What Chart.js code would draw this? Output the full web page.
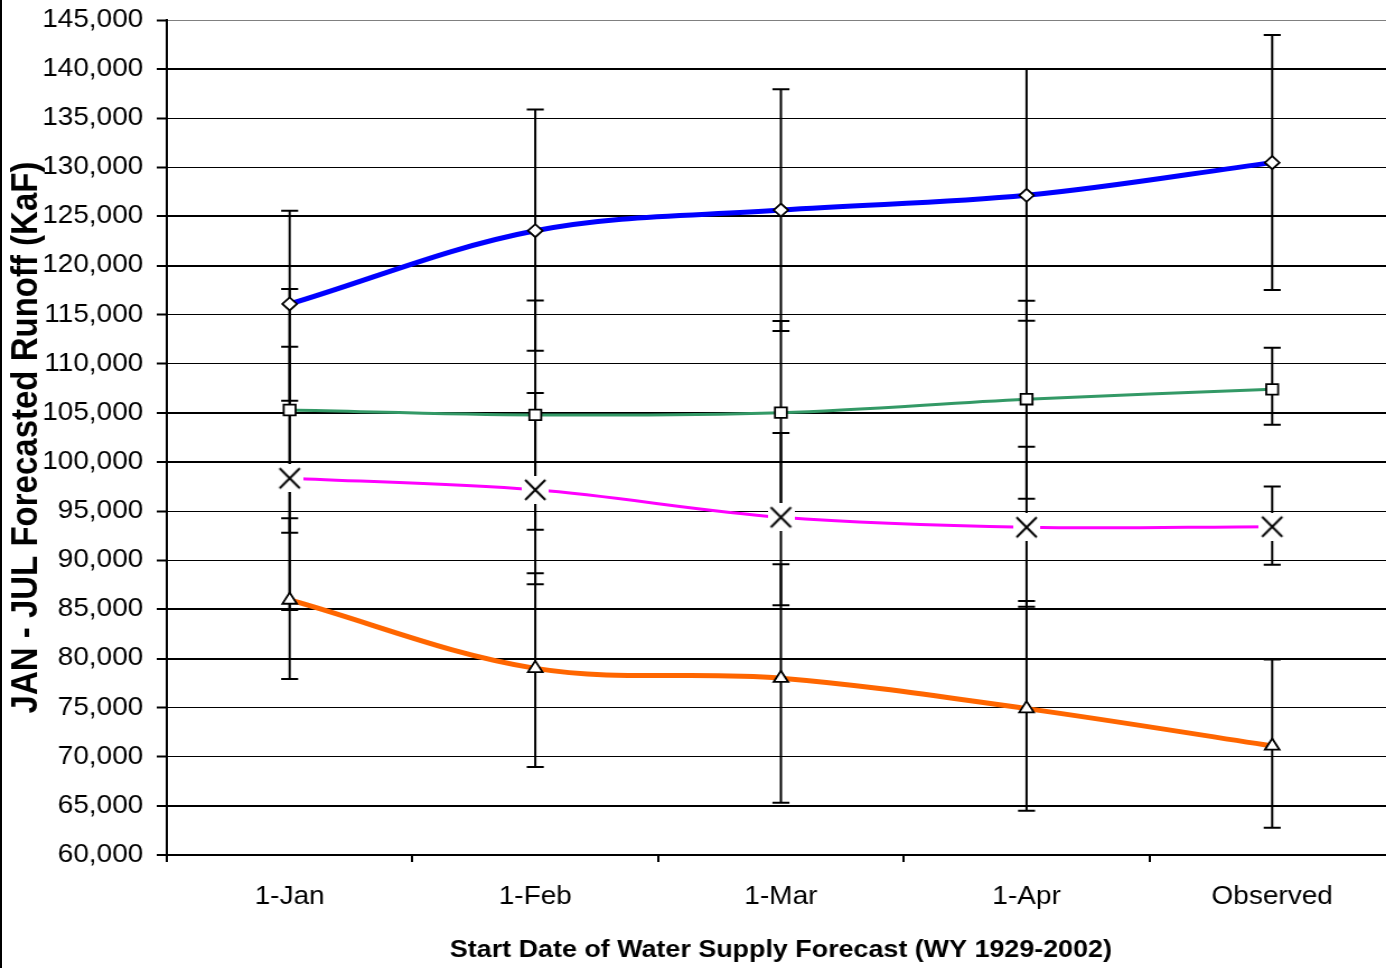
<!DOCTYPE html>
<html>
<head>
<meta charset="utf-8">
<script src="https://cdn.jsdelivr.net/npm/chart.js@4.4.0/dist/chart.umd.min.js"></script>
<style>
html,body{margin:0;padding:0;background:#fff;overflow:hidden;width:1386px;height:968px;}
#wrap{position:relative;width:1386px;height:968px;overflow:hidden;background:#fff;}
#c{position:absolute;left:0;top:0;}
#edge{position:absolute;left:0;top:0;width:2px;height:968px;background:#000;}
</style>
</head>
<body>
<div id="wrap">
<canvas id="c" width="1246" height="968" style="width:1395px;height:968px;"></canvas>
<div id="edge"></div>
</div>
<script>
// ---- data ----
const categories = ['1-Jan', '1-Feb', '1-Mar', '1-Apr', 'Observed'];

const blueValues = [116100, 123550, 125650, 127150, 130480];
const blueHigh   = [125590, 135890, 137950, 140000, 143470];
const blueLow    = [106250, 111330, 113340, 114390, 117515];

const greenValues = [105300, 104800, 105030, 106400, 107400];
const greenHigh   = [117620, 116440, 114360, 116430, 111645];
const greenLow    = [92810, 93120, 95700, 96270, 103805];

const pinkValues = [98350, 97170, 94380, 93360, 93420];
const pinkHigh   = [111745, 107020, 102960, 101570, 97500];
const pinkLow    = [84950, 87570, 85430, 85280, 89555];

const orangeValues = [85960, 79000, 78000, 74900, 71100];
const orangeHigh   = [94280, 88680, 89600, 85860, 79900];
const orangeLow    = [77920, 68970, 65310, 64510, 62780];

const yMin = 60000, yMax = 145000, yStep = 5000;
const xTitle = 'Start Date of Water Supply Forecast (WY 1929-2002)';
const yTitle = 'JAN - JUL Forecasted Runoff (KaF)';

// ---- styling ----
const FONT = "'Liberation Sans', Arial, Helvetica, sans-serif";
Chart.defaults.font.family = FONT;
Chart.defaults.color = '#000';

const thickGrid = [140000, 125000, 120000, 105000, 100000, 85000, 80000, 65000, 60000];

// X marker with white background box (Excel style)
const xMark = document.createElement('canvas');
xMark.width = 24; xMark.height = 28;
(function () {
  const g = xMark.getContext('2d');
  g.fillStyle = '#fff';
  g.fillRect(0, 0, 24, 28);
  g.strokeStyle = '#000';
  g.lineWidth = 2;
  g.beginPath();
  g.moveTo(3, 4); g.lineTo(21, 24);
  g.moveTo(21, 4); g.lineTo(3, 24);
  g.stroke();
})();

const errorBars = [
  { high: blueHigh, low: blueLow },
  { high: greenHigh, low: greenLow },
  { high: pinkHigh, low: pinkLow },
  { high: orangeHigh, low: orangeLow }
];

const errorBarPlugin = {
  id: 'errorBars',
  beforeDatasetsDraw(chart) {
    const ctx = chart.ctx;
    const ys = chart.scales.y;
    const cap = 7.6;
    ctx.save();
    ctx.strokeStyle = '#000';
    ctx.lineWidth = 2;
    errorBars.forEach((eb, i) => {
      const meta = chart.getDatasetMeta(i);
      meta.data.forEach((pt, j) => {
        const x = pt.x;
        const yh = ys.getPixelForValue(eb.high[j]);
        const yl = ys.getPixelForValue(eb.low[j]);
        ctx.beginPath();
        ctx.moveTo(x, yh); ctx.lineTo(x, yl);
        ctx.moveTo(x - cap, yh); ctx.lineTo(x + cap, yh);
        ctx.moveTo(x - cap, yl); ctx.lineTo(x + cap, yl);
        ctx.stroke();
      });
    });
    ctx.restore();
  }
};

function zeroPad(scale) {
  scale.paddingLeft = 0; scale.paddingRight = 0;
  scale.paddingTop = 0; scale.paddingBottom = 0;
}

const common = {
  fill: false,
  tension: 0.35,
  pointBackgroundColor: '#fff',
  pointBorderColor: '#000',
  pointBorderWidth: 1.8
};

new Chart(document.getElementById('c'), {
  type: 'line',
  data: {
    labels: categories,
    datasets: [
      Object.assign({}, common, {
        label: 'Series 1', data: blueValues, borderColor: '#0000ff', borderWidth: 5,
        pointStyle: 'rectRot', pointRadius: 6.5
      }),
      Object.assign({}, common, {
        label: 'Series 2', data: greenValues, borderColor: '#339966', borderWidth: 3,
        pointStyle: 'rect', pointRadius: 7.5
      }),
      Object.assign({}, common, {
        label: 'Series 3', data: pinkValues, borderColor: '#ff00ff', borderWidth: 3,
        pointStyle: xMark, pointRadius: 10
      }),
      Object.assign({}, common, {
        label: 'Series 4', data: orangeValues, borderColor: '#ff6600', borderWidth: 5,
        pointStyle: 'triangle', pointRadius: 7.5
      })
    ]
  },
  options: {
    responsive: false,
    animation: false,
    devicePixelRatio: 1,
    layout: { autoPadding: false, padding: { top: 20, right: 0, bottom: 0, left: 0 } },
    plugins: { legend: { display: false }, tooltip: { enabled: false } },
    scales: {
      x: {
        type: 'category',
        offset: true,
        grid: {
          display: true, offset: true, drawOnChartArea: false, drawTicks: true,
          tickLength: 7, color: '#000', lineWidth: 2
        },
        border: { display: true, color: '#000', width: 2 },
        ticks: { color: '#000', font: { size: 25 }, padding: 20, maxRotation: 0, autoSkip: false },
        title: {
          display: true, text: xTitle, color: '#000',
          font: { size: 24, weight: 'bold' }, padding: { top: 0, bottom: 3 }
        },
        afterFit(scale) { scale.height = 113; zeroPad(scale); }
      },
      y: {
        type: 'linear',
        min: yMin, max: yMax,
        ticks: {
          stepSize: yStep, color: '#000', font: { size: 25 }, padding: 12,
          callback: v => v.toLocaleString('en-US')
        },
        grid: {
          color: c => (c.tick && c.tick.value === yMax) ? '#808080' : '#000',
          lineWidth: c => (c.tick && thickGrid.includes(c.tick.value)) ? 2 : 1,
          tickColor: '#000', tickWidth: 2, tickLength: 9, drawTicks: true
        },
        border: { display: true, color: '#000', width: 2 },
        title: {
          display: true, text: yTitle, color: '#000',
          font: { size: 33, weight: 'bold' }, padding: { top: 4, bottom: 0 }
        },
        afterFit(scale) { scale.width = 149; zeroPad(scale); }
      }
    }
  },
  plugins: [errorBarPlugin]
});
</script>
</body>
</html>
